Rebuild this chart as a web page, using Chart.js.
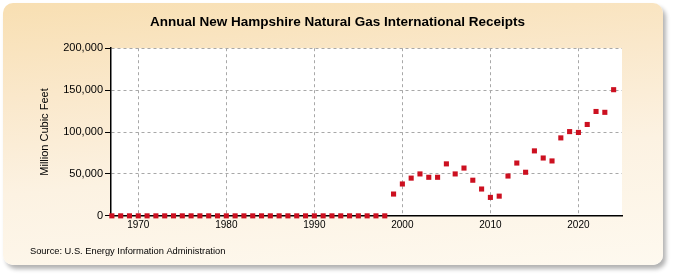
<!DOCTYPE html>
<html>
<head>
<meta charset="utf-8">
<script src="https://cdn.jsdelivr.net/npm/chart.js@4"></script>
<style>
  body { margin: 0; background: #fff; }
  #wrap { position: relative; width: 675px; height: 275px; }
  #panel {
    position: absolute; left: 3px; top: 3px; width: 660px; height: 262px;
    border-radius: 10px;
    background: linear-gradient(175deg, #f8dfb2 0%, #fae8cb 30%, #fcf2e2 60%, #fef9ef 100%);
    box-shadow: 3px 4px 4px rgba(0, 0, 0, 0.3);
  }
  #myChart { position: absolute; left: 0; top: 0; }
</style>
</head>
<body>
<div id="wrap">
  <div id="panel"></div>
  <canvas id="myChart" width="675" height="275"></canvas>
</div>
<script>
var years = [];
for (let y = 1967; y <= 2024; y++) years.push(y);

// million cubic feet, 1967-2024
var receipts = [
  0, 0, 0, 0, 0, 0, 0, 0, 0, 0,
  0, 0, 0, 0, 0, 0, 0, 0, 0, 0,
  0, 0, 0, 0, 0, 0, 0, 0, 0, 0,
  0, 0,
  26000, 38000, 45000, 50000, 46000, 46000, 62000, 50000, 57000, 42500,
  32000, 22000, 23500, 47500, 63000, 52000, 77500, 69000, 65500, 93000,
  100500, 99500, 109000, 124500, 123500, 150500
];

var xTicks = [1970, 1980, 1990, 2000, 2010, 2020];
var yTicks = [0, 50000, 100000, 150000, 200000];

var points = [];
for (let i = 0; i < years.length; i++) {
  points.push({ x: years[i], y: receipts[i] });
}

const plotBg = {
  id: 'plotBg',
  beforeDraw(chart) {
    const a = chart.chartArea;
    chart.ctx.save();
    chart.ctx.fillStyle = '#ffffff';
    chart.ctx.fillRect(a.left, a.top, a.right - a.left, a.bottom - a.top);
    chart.ctx.restore();
  }
};

const config = {
  type: 'scatter',
  data: {
    datasets: [{
      label: 'New Hampshire',
      data: points,
      backgroundColor: '#cc1020',
      borderColor: '#cc1020',
      borderWidth: 0,
      pointStyle: 'rect',
      pointRadius: 3.6,
      pointHoverRadius: 3.6,
      clip: false
    }]
  },
  plugins: [plotBg],
  options: {
    responsive: false,
    animation: false,
    layout: { padding: { left: 30, right: 30, top: 6, bottom: 10 } },
    plugins: {
      legend: { display: false },
      tooltip: { enabled: false },
      title: {
        display: true,
        text: 'Annual New Hampshire Natural Gas International Receipts',
        color: '#000',
        font: { family: 'Liberation Sans', size: 13.5, weight: 'bold' },
        padding: { top: 8, bottom: 18 }
      },
      subtitle: {
        display: true,
        position: 'bottom',
        align: 'start',
        text: 'Source: U.S. Energy Information Administration',
        color: '#000',
        font: { family: 'Liberation Sans', size: 9.3 },
        padding: { top: 8, bottom: 8 }
      }
    },
    scales: {
      x: {
        type: 'linear',
        min: 1966.9,
        max: 2024.95,
        afterBuildTicks: scale => { scale.ticks = xTicks.map(v => ({ value: v })); },
        afterFit: scale => { scale.height = 22; },
        ticks: {
          color: '#000',
          font: { family: 'Liberation Sans', size: 10 },
          padding: 3,
          maxRotation: 0,
          callback: v => String(v)
        },
        grid: {
          color: '#a8a8a8',
          drawTicks: false
        },
        border: { display: true, color: '#000', width: 1.5, dash: [3, 3] }
      },
      y: {
        min: 0,
        max: 200000,
        afterBuildTicks: scale => { scale.ticks = yTicks.map(v => ({ value: v })); },
        afterFit: scale => { scale.width = 81; },
        ticks: {
          color: '#000',
          font: { family: 'Liberation Sans', size: 11 },
          padding: 2,
          callback: v => v.toLocaleString('en-US')
        },
        grid: {
          color: '#a8a8a8',
          tickColor: '#000',
          tickLength: 6,
          tickBorderDash: []
        },
        border: { display: true, color: '#000', width: 1.5, dash: [3, 3] },
        title: {
          display: true,
          text: 'Million Cubic Feet',
          color: '#000',
          font: { family: 'Liberation Sans', size: 11 },
          padding: { top: 8, bottom: 0 }
        }
      },
      // empty right-hand spacer so the plot ends where the original does
      yRight: {
        position: 'right',
        min: 0,
        max: 200000,
        afterFit: scale => { scale.width = 23; },
        ticks: { display: false },
        grid: { display: false, drawOnChartArea: false },
        border: { display: false }
      }
    }
  }
};

const myChart = new Chart(document.getElementById('myChart'), config);
</script>
</body>
</html>
